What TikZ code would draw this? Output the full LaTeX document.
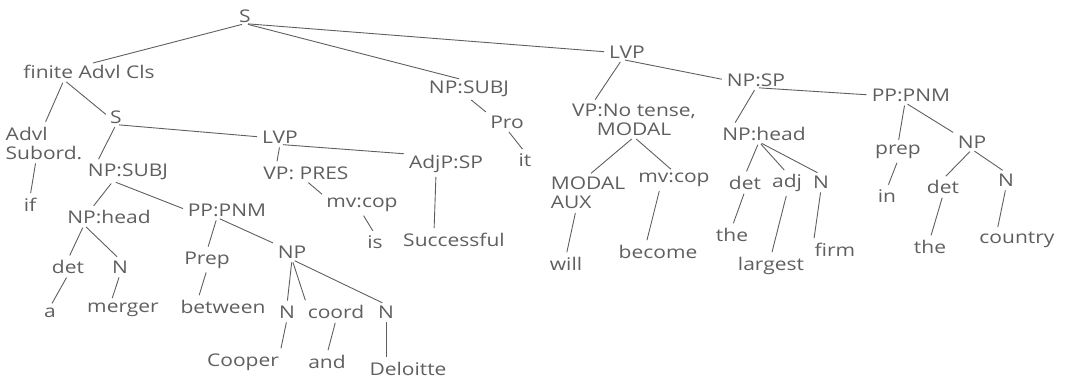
\documentclass[tikz,border=0pt]{standalone}
\usepackage{fontspec}
\setmainfont{Open Sans}[FakeStretch=1.2]
\usepackage{tikz}
\usetikzlibrary{positioning}
\definecolor{pencil}{RGB}{95, 95, 95}

\begin{document}
\begin{tikzpicture}[x=1pt, y=-1pt,
    lab/.style={inner sep=1pt, text=pencil, font=\fontsize{17.5}{19}\selectfont},
    branch/.style={draw=pencil, line width=0.9pt, shorten <=3pt, shorten >=4pt},
]
\useasboundingbox (0,0) rectangle (1066,383);

% Top level
\node[lab] (s) at (245, 16) {S};
\node[lab] (fac) at (89, 72) {finite Advl Cls};
\node[lab] (npsubj) at (469, 89) {NP:SUBJ};
\node[lab] (lvp) at (627, 52) {LVP};

% Adverbial clause
\node[lab, align=left] (advl) at (44, 143) {Advl\\Subord.};
\node[lab] (sb) at (116, 117) {S};
\node[lab] (if) at (30, 205) {if};
\node[lab] (npsubjb) at (128, 172) {NP:SUBJ};
\node[lab] (lvpb) at (280, 137) {LVP};

% Subject of the clause
\node[lab] (npheada) at (109, 217) {NP:head};
\node[lab] (ppa) at (227, 210) {PP:PNM};
\node[lab] (deta) at (68, 267) {det};
\node[lab] (na) at (120, 267) {N};
\node[lab] (a) at (50, 313) {a};
\node[lab] (merger) at (123, 310) {merger};
\node[lab] (prepa) at (207, 260) {Prep};
\node[lab] (npa) at (292, 252) {NP};
\node[lab] (between) at (223, 307) {between};
\node[lab] (nb) at (287, 312) {N};
\node[lab] (coord) at (336, 312) {coord};
\node[lab] (nc) at (386, 312) {N};
\node[lab] (cooper) at (243, 362) {Cooper};
\node[lab] (and) at (327, 362) {and};
\node[lab] (deloitte) at (408, 369) {Deloitte};

% Predicate of the clause
\node[lab] (vppres) at (306, 173) {VP: PRES};
\node[lab] (adjp) at (446, 164) {AdjP:SP};
\node[lab] (mvcopa) at (362, 205) {mv:cop};
\node[lab] (is) at (375, 242) {is};
\node[lab] (successful) at (454, 240) {Successful};

% Main subject
\node[lab] (pro) at (507, 122) {Pro};
\node[lab] (it) at (525, 160) {it};

% Main predicate
\node[lab, align=center] (vpmodal) at (634, 120) {VP:No tense,\\MODAL};
\node[lab, align=left] (modal) at (588, 193) {MODAL\\AUX};
\node[lab] (mvcopb) at (674, 180) {mv:cop};
\node[lab] (will) at (566, 264) {will};
\node[lab] (become) at (658, 252) {become};
\node[lab] (npsp) at (756, 80) {NP:SP};
\node[lab] (npheadb) at (764, 134) {NP:head};
\node[lab] (ppb) at (911, 95) {PP:PNM};
\node[lab] (detb) at (745, 183) {det};
\node[lab] (adj) at (787, 183) {adj};
\node[lab] (nd) at (821, 182) {N};
\node[lab] (thea) at (732, 235) {the};
\node[lab] (largest) at (771, 266) {largest};
\node[lab] (firm) at (835, 250) {firm};
\node[lab] (prepb) at (898, 152) {prep};
\node[lab] (npb) at (972, 142) {NP};
\node[lab] (in) at (887, 196) {in};
\node[lab] (detc) at (943, 187) {det};
\node[lab] (ne) at (1006, 180) {N};
\node[lab] (theb) at (930, 247) {the};
\node[lab] (country) at (1017, 240) {country};

% Branches
\draw[branch] (s.south) -- (fac.north);
\draw[branch] (s.south) -- ([xshift=-6pt]npsubj.north);
\draw[branch] (s.south) -- (lvp.west);
\draw[branch] ([xshift=-25pt]fac.south) -- (advl.north);
\draw[branch] ([xshift=-25pt]fac.south) -- (sb.west);
\draw[branch] ([xshift=-8pt]advl.south) -- (if.north);
\draw[branch] (sb.south) -- ([xshift=10pt]npsubjb.north west);
\draw[branch] (sb.south) -- (lvpb.west);
\draw[branch] ([xshift=-15pt]npsubjb.south) -- ([xshift=25pt]npheada.north west);
\draw[branch] ([xshift=-15pt]npsubjb.south) -- (ppa.west);
\draw[branch] ([xshift=-25pt]npheada.south) -- (deta.north);
\draw[branch] ([xshift=-25pt]npheada.south) -- (na.north);
\draw[branch] (deta.south) -- (a.north);
\draw[branch] (na.south) -- ([xshift=-12pt]merger.north);
\draw[branch] ([xshift=-10pt]ppa.south) -- (prepa.north);
\draw[branch] ([xshift=-10pt]ppa.south) -- (npa.north west);
\draw[branch] (prepa.south) -- ([xshift=-25pt]between.north);
\draw[branch] (npa.south) -- (nb.north);
\draw[branch] (npa.south) -- (coord.north west);
\draw[branch] (npa.south) -- (nc.north);
\draw[branch] (nb.south) -- (cooper.north east);
\draw[branch] (coord.south) -- (and.north);
\draw[branch] (nc.south) -- (nc.south |- deloitte.north);
\draw[branch] (lvpb.south) -- ([xshift=14pt]vppres.north west);
\draw[branch] (lvpb.south) -- (adjp.north west);
\draw[branch] (vppres.south) -- (mvcopa.north west);
\draw[branch] (mvcopa.south) -- (is.north);
\draw[branch] ([xshift=-10pt]adjp.south) -- ([xshift=-20pt]successful.north);
\draw[branch] (npsubj.south) -- (pro.north west);
\draw[branch] (pro.south) -- (it.north);
\draw[branch] ([xshift=-5pt]lvp.south) -- ([xshift=22pt]vpmodal.north west);
\draw[branch] ([xshift=-5pt]lvp.south) -- (npsp.west);
\draw[branch] (vpmodal.south) -- (modal.north);
\draw[branch] (vpmodal.south) -- (mvcopb.north);
\draw[branch] ([xshift=-12pt]modal.south) -- (will.north);
\draw[branch] ([xshift=-14pt]mvcopb.south) -- ([xshift=-12pt]become.north);
\draw[branch] (npsp.south) -- ([xshift=12pt]npheadb.north west);
\draw[branch] (npsp.south) -- (ppb.west);
\draw[branch] ([xshift=-5pt]npheadb.south) -- (detb.north);
\draw[branch] ([xshift=-5pt]npheadb.south) -- (adj.north);
\draw[branch] ([xshift=-5pt]npheadb.south) -- (nd.north);
\draw[branch] (detb.south) -- (thea.north);
\draw[branch] (adj.south) -- (largest.north);
\draw[branch] (nd.south) -- (firm.north west);
\draw[branch] ([xshift=-6pt]ppb.south) -- (prepb.north);
\draw[branch] ([xshift=-6pt]ppb.south) -- (npb.north west);
\draw[branch] (prepb.south) -- (in.north);
\draw[branch] (npb.south) -- (detc.north);
\draw[branch] (npb.south) -- (ne.north);
\draw[branch] (detc.south) -- (theb.north);
\draw[branch] (ne.south) -- ([xshift=-20pt]country.north);
\end{tikzpicture}
\end{document}
